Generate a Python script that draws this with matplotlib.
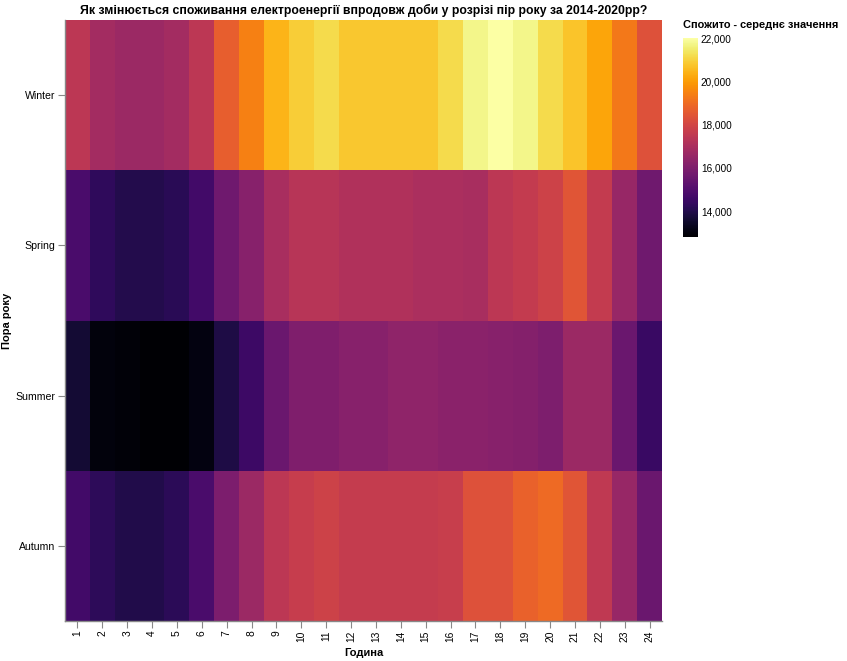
import numpy as np
import matplotlib.pyplot as plt

plt.rcParams['font.family'] = ['Liberation Sans', 'DejaVu Sans']

hours = list(range(1, 25))
seasons = ['Winter', 'Spring', 'Summer', 'Autumn']

# середнє споживання по годинах для кожної пори року
winter = [17400, 16850, 16660, 16660, 16850, 17400, 18690, 19420, 20440, 20900,
          21170, 20800, 20800, 20800, 20800, 21170, 21720, 22000, 21720, 21170,
          20710, 20160, 19240, 18320]
spring = [14820, 14270, 14000, 14000, 14130, 14640, 15650, 16200, 16940, 17310,
          17310, 17120, 17120, 17120, 17030, 17030, 16940, 17400, 17580, 17860,
          18410, 17580, 16570, 15650]
summer = [13630, 12990, 12940, 12800, 12800, 13080, 13900, 14550, 15560, 16020,
          16020, 16200, 16200, 16390, 16390, 16250, 16250, 16200, 16110, 15970,
          16660, 16660, 15560, 14460]
autumn = [14640, 14230, 13950, 13950, 14180, 14820, 15930, 16660, 17400, 17680,
          17860, 17630, 17630, 17630, 17630, 17700, 18320, 18320, 18730, 18960,
          18410, 17490, 16570, 15560]

data = np.array([winter, spring, summer, autumn])

fig = plt.figure(figsize=(8.47, 6.61), dpi=100)
ax = fig.add_axes([0.0767, 0.0605, 0.7049, 0.9092])

mesh = ax.pcolormesh(np.arange(25), np.arange(5), data, cmap='inferno',
                     vmin=12800, vmax=22000, shading='flat')
ax.set_xlim(0, 24)
ax.set_ylim(4, 0)

ax.set_xticks(np.arange(24) + 0.5)
ax.set_xticklabels([str(h) for h in hours], rotation=90, fontsize=7.4)
ax.set_yticks(np.arange(4) + 0.5)
ax.set_yticklabels(seasons, fontsize=7.6)
ax.tick_params(axis='both', length=5, width=0.8, color='#888888', pad=2)

for s in ['top', 'right']:
    ax.spines[s].set_visible(False)
for s in ['left', 'bottom']:
    ax.spines[s].set_color('#888888')
    ax.spines[s].set_linewidth(1)

ax.set_xlabel('Година', fontsize=8, fontweight='bold')
ax.xaxis.set_label_coords(0.5, -0.045)
ax.set_ylabel('Пора року', fontsize=8, fontweight='bold')
ax.yaxis.set_label_coords(-0.089, 0.5)
ax.set_title('Як змінюється споживання електроенергії впродовж доби у розрізі пір року за 2014-2020рр?',
             fontsize=8.8, fontweight='bold', pad=4)

cax = fig.add_axes([0.8064, 0.6415, 0.0177, 0.301])
cb = fig.colorbar(mesh, cax=cax)
cb.outline.set_visible(False)
cb.set_ticks([14000, 16000, 18000, 20000, 22000])
cb.set_ticklabels(['14,000', '16,000', '18,000', '20,000', '22,000'])
cax.tick_params(length=0, labelsize=7.2, pad=2)
fig.text(0.8064, 0.955, 'Спожито - середнє значення', fontsize=7.9,
         fontweight='bold', ha='left', va='bottom')

fig.savefig('out.png', dpi=100)
